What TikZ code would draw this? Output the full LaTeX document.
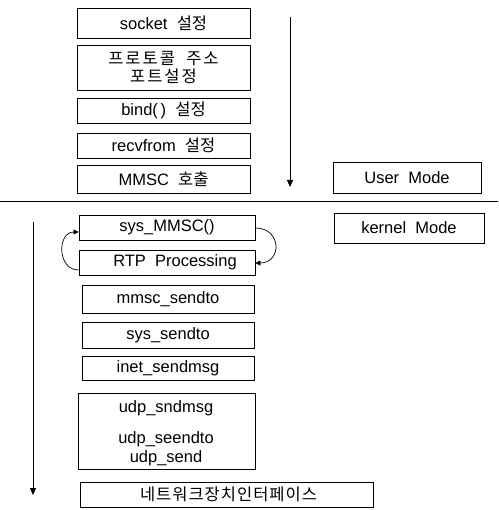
\documentclass[tikz,border=0pt]{standalone}
\usepackage{fontspec}
\setmainfont{Liberation Sans}
\newfontfamily\kr{Noto Sans CJK KR}
\usetikzlibrary{arrows.meta}
\tikzset{
  box/.style={draw, line width=0.8pt, inner sep=0pt, font=\fontsize{16.5}{18}\selectfont},
  txt/.style={font=\fontsize{16.5}{18}\selectfont, inner sep=0pt},
  flow/.style={line width=0.8pt, -{Triangle[length=7pt,width=6pt]}},
  loop/.style={line width=0.7pt, -{Triangle[length=5pt,width=5pt]}}
}
\newcommand{\bx}[6]{\node[box, minimum width=#4-#2, minimum height=#5-#3] (#1) at ({(#2+#4)/2},{(#3+#5)/2}) {#6};}
\begin{document}
\begin{tikzpicture}[x=1pt,y=-1pt]
\useasboundingbox (0,0) rectangle (498,510);
% user side
\bx{socket}{77}{8}{250}{38}{socket\ \ {\kr 설정}}
\bx{proto}{77}{45}{250}{90}{\shortstack{{\kr\addfontfeature{LetterSpace=12}프로토콜\ \ 주소}\\[1pt]{\kr\addfontfeature{LetterSpace=12}포트설정}}}
\bx{bind}{77}{98}{250}{123}{bind(\,)\ \ {\kr 설정}}
\bx{recv}{77}{133}{250}{158}{recvfrom\ \ {\kr 설정}}
\bx{mmsc}{77}{165}{250}{193}{MMSC\ \ {\kr 호출}}
\coordinate (ua) at (290,17);
\coordinate (ub) at (290,187);
\draw[flow] (ua) -- (ub);
\bx{user}{333}{162}{481}{193}{User\ \ Mode}
% separator
\coordinate (sl) at (0,202);
\coordinate (sr) at (498,202);
\draw[line width=1pt] (sl) -- (sr);
\bx{kernel}{334}{213}{484}{243}{kernel\ \ Mode}
% kernel side
\bx{sysmmsc}{79}{215}{255}{240}{sys\_MMSC()}
\bx{rtp}{79}{250}{255}{275}{\hspace*{16pt}RTP\ \ Processing}
\draw[loop] (rtp.west |- 0,270) .. controls (57,270) and (57,232) .. (sysmmsc.west |- 0,232);
\draw[loop] (sysmmsc.east |- 0,228) .. controls (282,228) and (282,263) .. (rtp.east |- 0,263);
\bx{msendto}{82}{285}{254}{313}{mmsc\_sendto}
\bx{ssendto}{82}{322}{254}{348}{sys\_sendto}
\bx{inet}{82}{356}{254}{380}{inet\_sendmsg}
\bx{udp}{78}{393}{255}{469}{}
\node[txt] (u1) at (166,408) {udp\_sndmsg};
\node[txt] (u2) at (166,439) {udp\_seendto};
\node[txt] (u3) at (166,458) {udp\_send};
\bx{net}{80}{482}{373}{507}{\hspace*{4pt}{\kr\addfontfeature{LetterSpace=6}네트워크장치인터페이스}}
\coordinate (ka) at (33,222);
\coordinate (kb) at (33,495);
\draw[flow] (ka) -- (kb);
\end{tikzpicture}
\end{document}
